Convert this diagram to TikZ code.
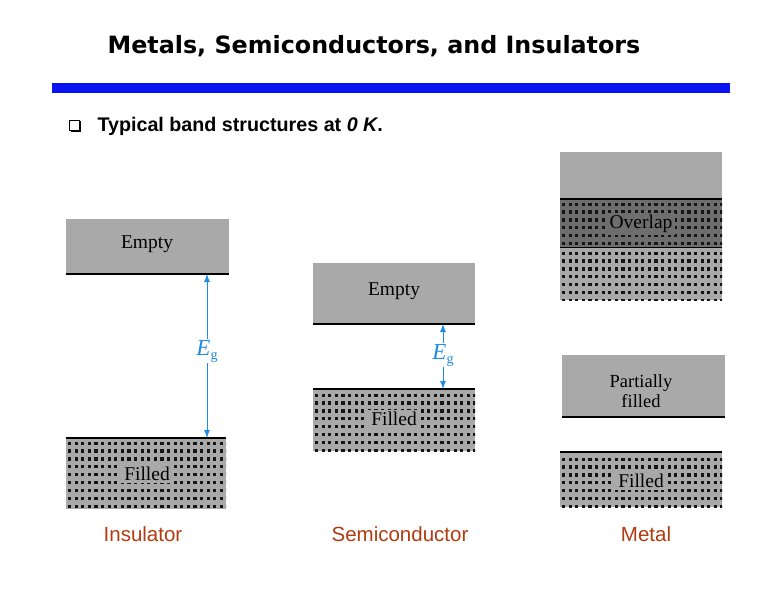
\documentclass[tikz,border=0pt]{standalone}
\usepackage{fontspec}
\setmainfont{Liberation Serif}
\setsansfont{Liberation Sans}
\newfontfamily\titlefont{DejaVu Sans}
\usetikzlibrary{arrows.meta}
\definecolor{bandgray}{HTML}{A9A9A9}
\definecolor{overgray}{HTML}{6E6E6E}
\definecolor{dotcol}{HTML}{151515}
\definecolor{egblue}{HTML}{1E8CE6}
\definecolor{labred}{HTML}{B03C10}
\definecolor{barblue}{HTML}{0A14F0}
\newcommand\dotgrid[4]{%
  \begin{scope}
    \clip (#1,#2) rectangle (#3,#4);
    \foreach \i in {0,...,26}{\foreach \j in {0,...,9}{%
      \fill[dotcol] (#1+2+\i*6.6,#2+2.5+\j*7.9) rectangle ++(3.2,3.2);}}
  \end{scope}}
\begin{document}
\begin{tikzpicture}[x=1pt,y=-1pt,
  band/.style={fill=bandgray, inner sep=0pt, outer sep=0pt},
  bandtext/.style={font=\fontsize{19.5}{20}\selectfont, inner sep=1.5pt, align=center},
  dottext/.style={bandtext, inner xsep=3pt, inner ysep=2pt},
  bandline/.style={line width=1.8pt, black},
  thinline/.style={line width=1pt, black},
  egarrow/.style={egblue, line width=1pt, -{Latex[length=8pt,width=6pt]}},
  eglab/.style={text=egblue, fill=white, inner sep=1pt, font=\fontsize{23}{23}\selectfont},
  kindlab/.style={text=labred, font=\sffamily\fontsize{20.5}{22}\selectfont}]
\useasboundingbox (0,0) rectangle (762,600);
\fill[white] (0,0) rectangle (762,600);

% title and bar
\node[font=\titlefont\bfseries\fontsize{23.8}{26}\selectfont] (title) at (374,46) {Metals, Semiconductors, and Insulators};
\fill[barblue] (52,83) rectangle (730,93);

% subtitle
\fill[black] (70.5,120.5) rectangle (81,131.5);
\node[draw=black, fill=white, line width=0.8pt, minimum size=10pt, inner sep=0pt] (cb) at (74,125) {};
\node[anchor=west, font=\sffamily\bfseries\fontsize{19.7}{21}\selectfont] (sub) at (94,126) {Typical band structures at \textit{0 K}.};

% ---------- Insulator ----------
\node[band, minimum width=163pt, minimum height=55pt] (iE) at (147.5,246.5) {};
\node[bandtext] (iEt) at (147,244) {Empty};
\draw[bandline] (iE.south west) -- (iE.south east);
\node[band, minimum width=160pt, minimum height=71pt] (iF) at (146,473.5) {};
\dotgrid{66}{439}{226}{509}
\node[dottext, fill=bandgray] (iFt) at (147,474) {Filled};
\draw[bandline] (iF.north west) -- (iF.north east);
\node[eglab] (ieg) at (207,351) {\textit{E}\raisebox{-4pt}{\fontsize{14}{14}\selectfont g}};
\draw[egarrow] (ieg.north) -- (iE.south -| ieg);
\draw[egarrow] (ieg.south) -- (iF.north -| ieg);
\node[kindlab] (iL) at (143,534) {Insulator};

% ---------- Semiconductor ----------
\node[band, minimum width=162pt, minimum height=61pt] (sE) at (394,293.5) {};
\node[bandtext] (sEt) at (394,291) {Empty};
\draw[bandline] (sE.south west) -- (sE.south east);
\node[band, minimum width=162pt, minimum height=62pt] (sF) at (394,420) {};
\dotgrid{313}{391}{475}{451}
\node[dottext, fill=bandgray] (sFt) at (394,419) {Filled};
\draw[bandline] (sF.north west) -- (sF.north east);
\node[eglab] (seg) at (443,355) {\textit{E}\raisebox{-4pt}{\fontsize{14}{14}\selectfont g}};
\draw[egarrow] (seg.north) -- (sE.south -| seg);
\draw[egarrow] (seg.south) -- (sF.north -| seg);
\node[kindlab] (sL) at (400,534) {Semiconductor};

% ---------- Metal ----------
\node[band, minimum width=162pt, minimum height=47pt] (mT) at (641,175) {};
\node[fill=overgray, inner sep=0pt, minimum width=162pt, minimum height=48pt] (mO) at (641,223.5) {};
\dotgrid{560}{200}{722}{247}
\node[dottext, fill=overgray] (mOt) at (641,224) {Overlap};
\node[band, minimum width=162pt, minimum height=53pt] (mB) at (641,273.5) {};
\dotgrid{560}{249}{722}{300}
\draw[bandline] (mO.north west) -- (mO.north east);
\draw[thinline] (mO.south west) -- (mO.south east);

\node[band, minimum width=163pt, minimum height=62pt] (mP) at (643.5,386) {};
\node[bandtext, font=\fontsize{18.5}{20}\selectfont] (mPt) at (641,391) {Partially\\filled};
\draw[bandline] (mP.south west) -- (mP.south east);

\node[band, minimum width=162pt, minimum height=55pt] (mF) at (641,479.5) {};
\dotgrid{560}{455}{722}{507}
\node[dottext, fill=bandgray] (mFt) at (641,481) {Filled};
\draw[bandline] (mF.north west) -- (mF.north east);
\node[kindlab] (mL) at (646,534) {Metal};
\end{tikzpicture}
\end{document}
